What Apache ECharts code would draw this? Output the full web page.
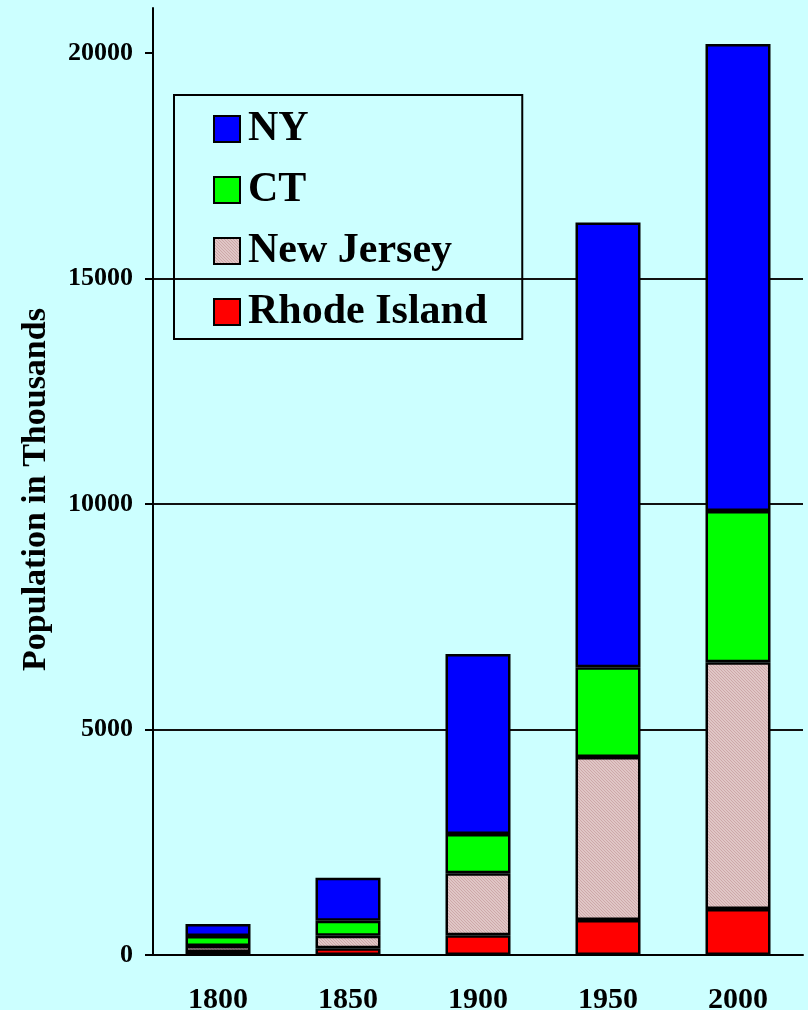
<!DOCTYPE html>
<html>
<head>
<meta charset="utf-8">
<script src="https://cdn.jsdelivr.net/npm/echarts@6/dist/echarts.min.js"></script>
<style>
html,body{margin:0;padding:0;background:#CCFFFF;}
#chart{width:808px;height:1010px;}
</style>
</head>
<body>
<div id="chart"></div>
<script>
const years = ['1800', '1850', '1900', '1950', '2000'];
const rhodeIsland = [66, 149, 437, 776, 1020];
const newJersey = [133, 279, 1375, 3614, 5470];
const ct = [222, 333, 871, 1989, 3355];
const ny = [266, 953, 3991, 9867, 10355];
const yTicks = [0, 5000, 10000, 15000, 20000];

function hatch() {
  const c = document.createElement('canvas');
  c.width = 3; c.height = 3;
  const g = c.getContext('2d');
  g.fillStyle = '#e0c6c6';
  g.fillRect(0, 0, 3, 3);
  g.fillStyle = '#cda8a8';
  for (let i = 0; i < 3; i++) g.fillRect(i, i, 1, 1);
  return c;
}

const font = 'Liberation Serif';
const border = {borderColor: '#000', borderWidth: 2.5};
function mk(name, data, color) {
  return {
    name: name, type: 'bar', stack: 'total', data: data, barWidth: '50%',
    itemStyle: Object.assign({color: color}, border)
  };
}

const chart = echarts.init(document.getElementById('chart'));
chart.setOption({
  backgroundColor: '#CCFFFF',
  animation: false,
  grid: {left: 153, right: 5, top: 8, bottom: 55, outerBoundsMode: 'none', containLabel: false},
  legend: {
    orient: 'vertical', left: 174, top: 95,
    padding: [13, 35, 6, 39],
    borderColor: '#000', borderWidth: 2,
    icon: 'rect',
    itemWidth: 26, itemHeight: 26, itemGap: 19,
    itemStyle: {borderColor: '#000', borderWidth: 2},
    data: ['NY', 'CT', 'New Jersey', 'Rhode Island'],
    textStyle: {fontFamily: font, fontWeight: 'bold', fontSize: 42, color: '#000', lineHeight: 42, padding: [0, 0, 0, 3]}
  },
  xAxis: {
    type: 'category', data: years,
    axisLine: {lineStyle: {color: '#000', width: 2}},
    axisTick: {length: 9, lineStyle: {color: '#000', width: 2}},
    axisLabel: {fontFamily: font, fontWeight: 'bold', fontSize: 30, color: '#000', margin: 30}
  },
  yAxis: {
    type: 'value', min: 0, max: 21000, interval: 5000,
    name: 'Population in Thousands', nameLocation: 'middle', nameRotate: 90, nameGap: 100,
    nameTextStyle: {fontFamily: font, fontWeight: 'bold', fontSize: 34, color: '#000', padding: [0, 16, 0, 0]},
    axisLine: {show: true, lineStyle: {color: '#000', width: 2}},
    axisTick: {show: true, length: 8, customValues: yTicks, lineStyle: {color: '#000', width: 2}},
    axisLabel: {fontFamily: font, fontWeight: 'bold', fontSize: 26, color: '#000', margin: 20,
      customValues: yTicks, formatter: function (v) { return String(v); }},
    splitLine: {show: true, showMaxLine: false, showMinLine: false, lineStyle: {color: '#111', width: 2}}
  },
  series: [
    mk('Rhode Island', rhodeIsland, '#FF0000'),
    mk('New Jersey', newJersey, {image: hatch(), repeat: 'repeat'}),
    mk('CT', ct, '#00FF00'),
    mk('NY', ny, '#0000FF')
  ]
});
</script>
</body>
</html>
